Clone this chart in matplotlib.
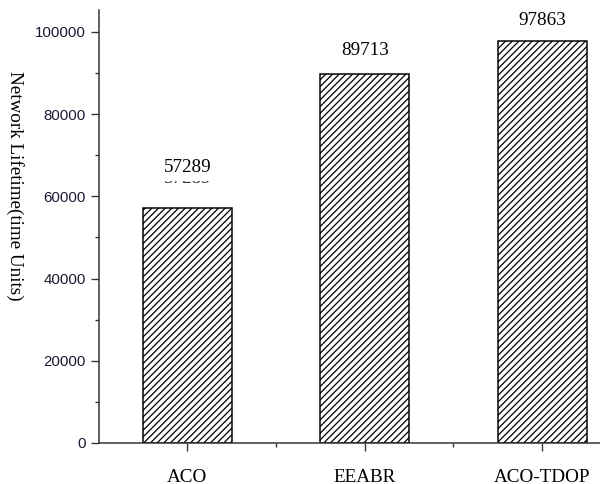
import matplotlib
matplotlib.use("Agg")
import matplotlib.pyplot as plt
from matplotlib.ticker import MultipleLocator, FixedLocator

# Network lifetime per routing protocol
protocols = ["ACO", "EEABR", "ACO-TDOP"]
lifetimes = [57289, 89713, 97863]
value_labels = ["57289", "89713", "97863"]
label_offsets_pt = [24, 14.5, 12]   # gap between bar top and its value label
y_ticks = [0, 20000, 40000, 60000, 80000, 100000]

DPI = 120
plt.rcParams["hatch.linewidth"] = 0.75
plt.rcParams["hatch.color"] = "black"

fig = plt.figure(figsize=(600 / DPI, 484 / DPI), dpi=DPI)
ax = fig.add_axes([98.5 / 600, (484 - 443) / 484, (631 - 98.5) / 600, (443 - 10) / 484])

serif = ["Liberation Serif", "DejaVu Serif"]
sans = ["Liberation Sans", "DejaVu Sans"]

x = list(range(len(protocols)))
ax.bar(x, lifetimes, width=0.5, facecolor="white", edgecolor="black",
       linewidth=0.9, hatch="//////", zorder=2)

# value labels above bars
for xi, v, txt, off in zip(x, lifetimes, value_labels, label_offsets_pt):
    ax.annotate(txt, (xi, v), xytext=(0, off), textcoords="offset points",
                ha="center", va="center", fontsize=11.5, family=serif,
                color="black", zorder=5,
                bbox=dict(facecolor="white", edgecolor="none", pad=3))

# faint duplicate of the first label peeking out beneath it
ax.annotate(value_labels[0], (x[0], lifetimes[0]), xytext=(0, label_offsets_pt[0] - 6.5),
            textcoords="offset points", ha="center", va="center",
            fontsize=11.5, family=serif, color="#334", zorder=4)

ax.set_xlim(-0.5, 2.5)
ax.set_ylim(0, 105350)

ax.set_xticks(x)
ax.set_xticklabels(protocols, fontsize=11.5, family=serif)
ax.xaxis.set_minor_locator(FixedLocator([0.5, 1.5]))
ax.set_yticks(y_ticks)
ax.set_yticklabels([str(t) for t in y_ticks], fontsize=9, family=sans, color="#1a1a33")
ax.yaxis.set_minor_locator(MultipleLocator(10000))

ax.tick_params(axis="both", which="major", direction="out", length=4.8, width=0.8,
               color="#333333")
ax.tick_params(axis="both", which="minor", direction="out", length=2.6, width=0.8,
               color="#333333")
ax.tick_params(axis="x", which="major", pad=10.5)
ax.tick_params(axis="y", which="major", pad=3)

for side in ("top", "right"):
    ax.spines[side].set_visible(False)
for side in ("left", "bottom"):
    ax.spines[side].set_linewidth(0.9)
    ax.spines[side].set_color("#333333")

fig.text(15 / 600, 1 - 186 / 484, "Network Lifetime(time Units)", rotation=270,
         ha="center", va="center", fontsize=11.5, family=serif)

fig.savefig("out.png", dpi=DPI)
